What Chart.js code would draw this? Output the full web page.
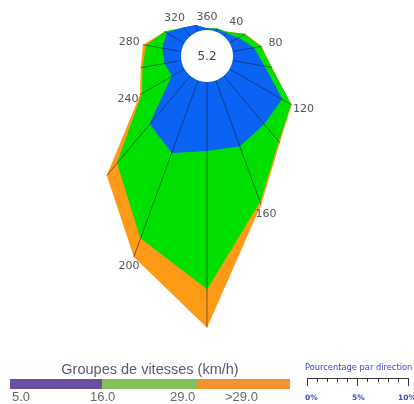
<!DOCTYPE html>
<html lang="fr">
<head>
<meta charset="utf-8">
<title>Rose des vents</title>
<script src="https://cdn.jsdelivr.net/npm/chart.js@4.4.1/dist/chart.umd.min.js"></script>
<style>
  html, body { margin: 0; padding: 0; background: #fff; }
  body { width: 414px; height: 404px; position: relative; overflow: hidden;
         font-family: "Liberation Sans", Arial, sans-serif; }
  #roseBox { position: absolute; left: 0; top: 0; width: 600px; height: 600px; }
  #legend { position: absolute; left: 0; top: 0; width: 414px; height: 404px; z-index: 2; }
  .lg-title { position: absolute; left: 10px; width: 280px; top: 361px; text-align: center;
              font-size: 14.5px; color: #5b5578; white-space: nowrap; }
  .lg-seg { position: absolute; top: 379px; height: 10px; }
  .lg-lab { position: absolute; top: 389px; font-size: 13px; color: #666; white-space: nowrap; }
  .rl-title { position: absolute; left: 305px; top: 362px; font-family: "DejaVu Sans", sans-serif;
              font-size: 8.3px; color: #3347d6; white-space: nowrap; }
  .rl-line { position: absolute; height: 1px; background: #333; }
  .rl-tick { position: absolute; width: 1px; background: #333; }
  .rl-lab { position: absolute; top: 393px; font-family: "DejaVu Sans", sans-serif; font-size: 7.5px;
            font-weight: bold; color: #3b4fc0; white-space: nowrap; }
</style>
</head>
<body>
<div id="roseBox"><canvas id="rose" width="600" height="600"></canvas></div>
<div id="legend"></div>
<script>
// Wind directions (degrees), one sector every 20°
const directions = [360, 20, 40, 60, 80, 100, 120, 140, 160, 180, 200, 220, 240, 260, 280, 300, 320, 340];
// Calm percentage shown in the centre circle
const calmPct = 5.2;
// Frequency (% of observations) per direction and speed class
const speed5to16  = [0.1, 0.2, 0.3, 0.85, 1.8, 2.7, 5.1, 5.3, 5.9, 5.8, 6.5, 5.3, 1.2, 1.4, 1.6, 1.7, 0.9, 0.55];
const speed16to29 = [0, 0.05, 0.13, 0.6, 0.6, 0.6, 0.9, 1.9, 5.0, 11.7, 7.7, 4.3, 2.9, 1.9, 1.4, 0.2, 0, 0];
const speedOver29 = [0, 0, 0.05, 0.1, 0.1, 0.1, 0.05, 0.2, 0.3, 3.3, 1.7, 1.4, 0.25, 0.2, 0.3, 0.05, 0, 0];
// Speed class boundaries (km/h) and scale-rule labels
const speedClassLabels = ['5.0', '16.0', '29.0', '>29.0'];
const ruleLabels = ['0%', '5%', '10%'];

// ---- layout / style ----
const roseCenter = { x: 207, y: 56 };
const bandColors = ['#0B63F6', '#00E000', '#FF9A17'];
const legendColors = ['#6C4E9E', '#86C05A', '#F5922E'];

// Stacked totals: each ring covers everything inside it
const cumulative = (...series) => series[0].map((_, i) => series.reduce((s, a) => s + a[i], 0));
const ringInner = cumulative(speed5to16);
const ringMid = cumulative(speed5to16, speed16to29);
const ringOuter = cumulative(speed5to16, speed16to29, speedOver29);

// Spokes, calm circle and direction labels
const roseDecor = {
  id: 'roseDecor',
  afterDatasetsDraw(chart) {
    const r = chart.scales.r;
    const ctx = chart.ctx;
    ctx.save();
    ctx.strokeStyle = 'rgba(20,30,40,0.55)';
    ctx.lineWidth = 1;
    ringOuter.forEach((v, i) => {
      const a = r.getPointPositionForValue(i, 0);
      const b = r.getPointPositionForValue(i, v);
      ctx.beginPath();
      ctx.moveTo(a.x, a.y);
      ctx.lineTo(b.x, b.y);
      ctx.stroke();
    });
    const rad = r.getDistanceFromCenterForValue(0);
    ctx.fillStyle = '#fff';
    ctx.beginPath();
    ctx.arc(r.xCenter, r.yCenter, rad, 0, Math.PI * 2);
    ctx.fill();
    ctx.fillStyle = '#444';
    ctx.font = '12px "DejaVu Sans", sans-serif';
    ctx.textAlign = 'center';
    ctx.textBaseline = 'middle';
    ctx.fillText(calmPct.toFixed(1), r.xCenter, r.yCenter + 1);
    ctx.fillStyle = '#555';
    ctx.font = '11px "DejaVu Sans", sans-serif';
    directions.forEach((d, i) => {
      if (d % 40 !== 0) return;
      const p = r.getPointPositionForValue(i, ringOuter[i]);
      const ang = r.getIndexAngle(i);
      ctx.fillText(String(d), p.x + Math.sin(ang) * 14, p.y - Math.cos(ang) * 11 - 1);
    });
    ctx.restore();
  }
};

const chart = new Chart(document.getElementById('rose'), {
  type: 'radar',
  data: {
    labels: directions.map(String),
    datasets: [
      { label: '5.0 - 16.0', data: ringInner, backgroundColor: bandColors[0],
        borderColor: bandColors[0], borderWidth: 1, fill: 'origin' },
      { label: '16.0 - 29.0', data: ringMid, backgroundColor: bandColors[1],
        borderColor: bandColors[1], borderWidth: 1, fill: 'origin' },
      { label: '>29.0', data: ringOuter, backgroundColor: bandColors[2], borderWidth: 0, fill: 'origin' }
    ]
  },
  options: {
    responsive: false,
    animation: false,
    devicePixelRatio: 1,
    events: [],
    layout: { padding: 0 },
    elements: { line: { tension: 0 }, point: { radius: 0, hoverRadius: 0, hitRadius: 0 } },
    plugins: { legend: { display: false }, tooltip: { enabled: false } },
    scales: {
      r: {
        min: -2.2, max: 23.2, startAngle: 0,
        grid: { display: false }, angleLines: { display: false },
        ticks: { display: false }, pointLabels: { display: false }
      }
    }
  },
  plugins: [roseDecor]
});

// Put the rose centre where it belongs on the page
const rScale = chart.scales.r;
const box = document.getElementById('roseBox');
box.style.left = (roseCenter.x - rScale.xCenter) + 'px';
box.style.top = (roseCenter.y - rScale.yCenter) + 'px';

// ---- speed class legend ----
const legend = document.getElementById('legend');
const add = (cls, css, text) => {
  const el = document.createElement('div');
  el.className = cls;
  Object.assign(el.style, css);
  if (text !== undefined) el.textContent = text;
  legend.appendChild(el);
  return el;
};
add('lg-title', {}, 'Groupes de vitesses (km/h)');
const segEdges = [10, 102, 197, 290];
legendColors.forEach((c, i) => add('lg-seg', { left: segEdges[i] + 'px', width: (segEdges[i + 1] - segEdges[i]) + 'px', background: c }));
const labelPos = [ { left: '12px' }, { left: '90px' }, { left: '170px' }, { left: '225px' } ];
speedClassLabels.forEach((t, i) => add('lg-lab', labelPos[i], t));

// ---- percentage rule ----
add('rl-title', {}, 'Pourcentage par direction');
const ruleX0 = 306.5, ruleLen = 101.5, ruleY = 378;
add('rl-line', { left: ruleX0 + 'px', top: ruleY + 'px', width: ruleLen + 'px' });
for (let k = 0; k <= 10; k++) {
  const major = k % 5 === 0;
  add('rl-tick', { left: (ruleX0 + k * ruleLen / 10) + 'px', top: ruleY + 'px', height: (major ? 8 : 4) + 'px' });
}
const ruleLabPos = [ { left: '305px' }, { left: '352px' }, { left: '398px' } ];
ruleLabels.forEach((t, i) => add('rl-lab', ruleLabPos[i], t));
</script>
</body>
</html>
